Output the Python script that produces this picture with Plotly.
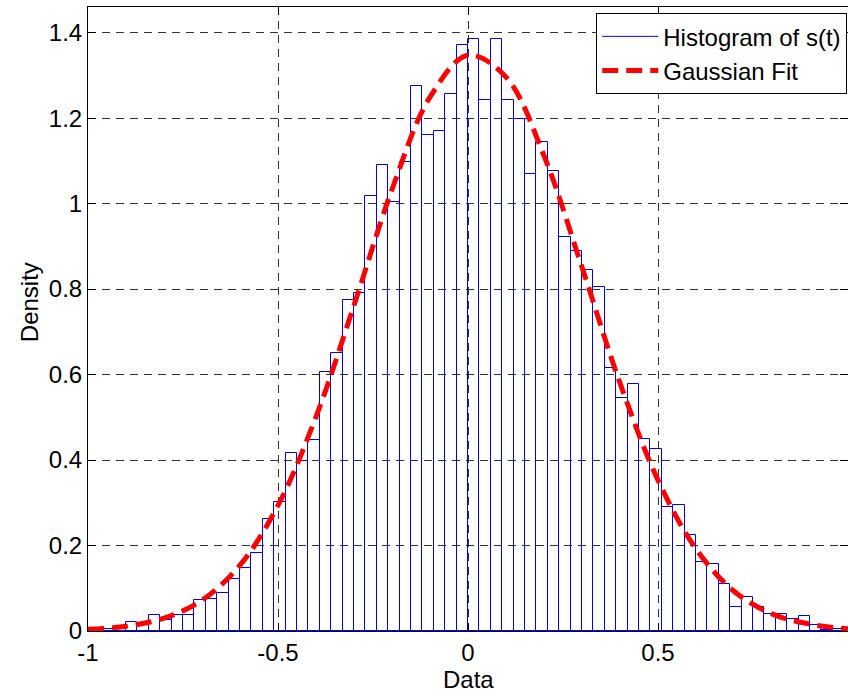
import numpy as np
import plotly.graph_objects as go

# ---- data ----
bin_start = -0.96
bin_width = 0.03
density = [
    0.004, 0.006, 0.021, 0.014, 0.038, 0.026, 0.037, 0.038, 0.072, 0.074,
    0.089, 0.122, 0.147, 0.182, 0.262, 0.303, 0.416, 0.398, 0.448, 0.606,
    0.650, 0.774, 0.791, 1.018, 1.091, 1.003, 1.097, 1.275, 1.160, 1.169,
    1.256, 1.372, 1.386, 1.242, 1.386, 1.242, 1.197, 1.070, 1.145, 1.076,
    0.922, 0.890, 0.844, 0.805, 0.615, 0.545, 0.578, 0.449, 0.427, 0.289,
    0.294, 0.225, 0.162, 0.156, 0.110, 0.056, 0.080, 0.055, 0.039, 0.039,
    0.027, 0.035, 0.015, 0.002, 0.005,
]
fit_x = [-1.0, -0.9, -0.8, -0.7, -0.6, -0.5, -0.4, -0.3, -0.2, -0.1, 0.0,
         0.1, 0.2, 0.3, 0.4, 0.5, 0.6, 0.7, 0.8, 0.9, 1.0]
fit_y = [0.004, 0.011, 0.030, 0.072, 0.154, 0.294, 0.501, 0.762, 1.033, 1.249,
         1.347, 1.296, 1.112, 0.851, 0.580, 0.353, 0.192, 0.093, 0.040, 0.016, 0.005]
x_ticks = [-1, -0.5, 0, 0.5, 1]
x_labels = ["-1", "-0.5", "0", "0.5", "1"]
y_ticks = [0, 0.2, 0.4, 0.6, 0.8, 1.0, 1.2, 1.4]
y_labels = ["0", "0.2", "0.4", "0.6", "0.8", "1", "1.2", "1.4"]

centers = bin_start + bin_width * (np.arange(len(density)) + 0.5)

FONT = "Liberation Sans, Arial, Helvetica, sans-serif"

fig = go.Figure()
fig.add_trace(go.Bar(
    x=centers, y=density, width=bin_width,
    marker=dict(color="rgba(0,0,0,0)", line=dict(color="#0000ff", width=1)),
    showlegend=False, hoverinfo="skip",
))
fig.add_trace(go.Scatter(
    x=[None], y=[None], mode="lines",
    line=dict(color="#0000ff", width=1),
    name="Histogram of s(t)",
))
fig.add_trace(go.Scatter(
    x=fit_x, y=fit_y, mode="lines",
    line=dict(color="#ff0000", width=5, dash="16px,8px", shape="spline", smoothing=1),
    name="Gaussian Fit",
))

axis_common = dict(
    showline=True, linecolor="black", linewidth=1, mirror="ticks",
    ticks="inside", ticklen=8, tickcolor="black", tickwidth=1,
    showgrid=True, gridcolor="#333333", gridwidth=1, griddash="8px,6px",
    zeroline=False,
    tickfont=dict(family=FONT, size=24, color="black"),
    automargin=False,
)

fig.update_xaxes(range=[-1, 1], tickvals=x_ticks, ticktext=x_labels, **axis_common)
fig.update_yaxes(range=[0, 1.46], tickvals=y_ticks, ticktext=y_labels, **axis_common)

fig.update_layout(
    width=848, height=692,
    margin=dict(l=88, r=0, t=7, b=61, pad=0),
    paper_bgcolor="white", plot_bgcolor="white",
    bargap=0,
    font=dict(family=FONT, size=24, color="black"),
    legend=dict(
        x=0.999, xanchor="right", y=0.99, yanchor="top",
        bgcolor="white", bordercolor="black", borderwidth=1,
        font=dict(family=FONT, size=24, color="black"),
        itemwidth=56, tracegroupgap=0,
    ),
    annotations=[
        dict(text="Density", x=-0.0776, y=0.527, xref="paper", yref="paper",
             textangle=-90, showarrow=False, xanchor="center", yanchor="middle",
             font=dict(family=FONT, size=24, color="black")),
        dict(text="Data", x=0.5013, y=-0.0785, xref="paper", yref="paper",
             showarrow=False, xanchor="center", yanchor="middle",
             font=dict(family=FONT, size=24, color="black")),
    ],
)

fig.write_html("out.html")
